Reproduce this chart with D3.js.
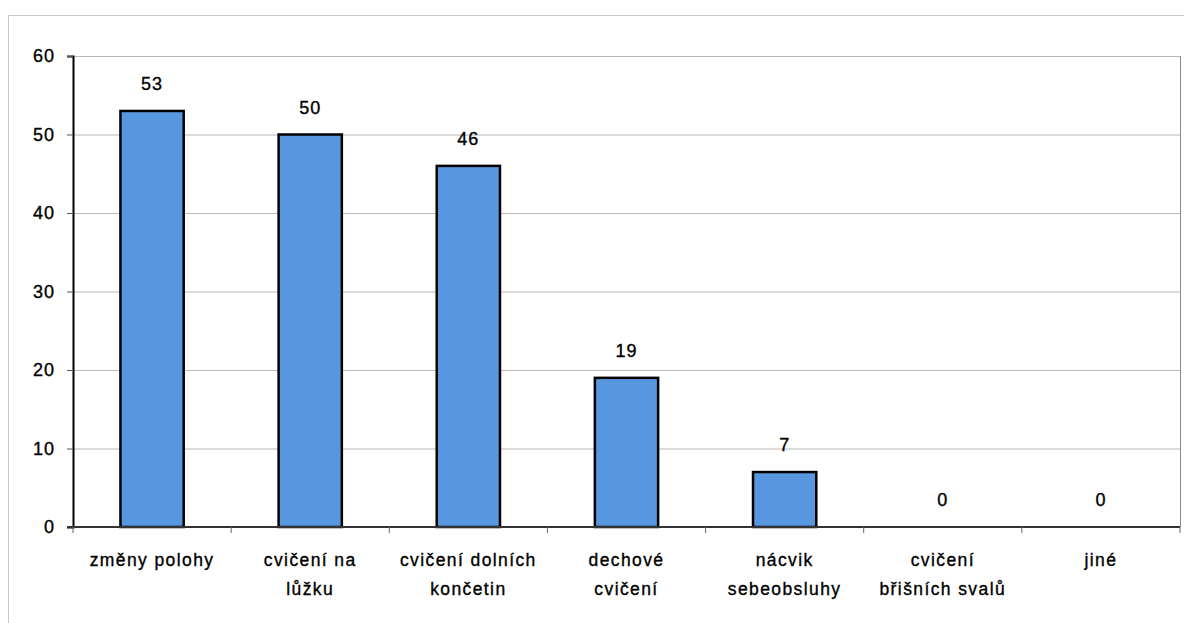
<!DOCTYPE html>
<html>
<head>
<meta charset="utf-8">
<script src="https://cdn.jsdelivr.net/npm/d3@7"></script>
<style>
  html, body { margin: 0; padding: 0; background: #fff; }
  svg { display: block; font-family: "Liberation Sans", Arial, sans-serif; }
  .txt { fill: #000; stroke: #000; stroke-width: 0.35px; }
</style>
</head>
<body>
<svg id="chart" width="1184" height="623"></svg>
<script>
// Activity categories (each label may wrap onto two lines)
const categories = [
  ["změny polohy"],
  ["cvičení na", "lůžku"],
  ["cvičení dolních", "končetin"],
  ["dechové", "cvičení"],
  ["nácvik", "sebeobsluhy"],
  ["cvičení", "břišních svalů"],
  ["jiné"]
];
const values = [53, 50, 46, 19, 7, 0, 0];
const yTicks = [0, 10, 20, 30, 40, 50, 60];

const svg = d3.select("#chart");
const margin = { left: 73, right: 4, top: 56, bottom: 96 };
const W = 1184, H = 623;

// outer chart frame
svg.append("rect")
  .attr("x", 8.5).attr("y", 15.5)
  .attr("width", W + 10).attr("height", H + 10)
  .attr("fill", "none").attr("stroke", "#c8c8c8").attr("stroke-width", 1);

const x = d3.scaleBand()
  .domain(d3.range(categories.length))
  .range([margin.left, W - margin.right])
  .paddingInner(0.6).paddingOuter(0.3);

const y = d3.scaleLinear().domain([0, 60]).range([H - margin.bottom, margin.top]);

// gridlines
svg.append("g")
  .selectAll("line").data(yTicks.filter(d => d > 0)).join("line")
  .attr("x1", margin.left).attr("x2", W - margin.right)
  .attr("y1", d => y(d) + 0.5).attr("y2", d => y(d) + 0.5)
  .attr("stroke", "#b8b8b8").attr("stroke-width", 1);

// right edge of the plot area
svg.append("line")
  .attr("x1", W - margin.right + 0.5).attr("x2", W - margin.right + 0.5)
  .attr("y1", y(60)).attr("y2", y(0))
  .attr("stroke", "#8a8a8a").attr("stroke-width", 1);

// bars
svg.append("g")
  .selectAll("rect").data(values).join("rect")
  .attr("x", (d, i) => x(i))
  .attr("y", d => y(d))
  .attr("width", x.bandwidth())
  .attr("height", d => y(0) - y(d))
  .attr("fill", "#5797e0")
  .attr("stroke", "#000")
  .attr("stroke-width", 2.5)
  .attr("display", d => d > 0 ? null : "none");

// value labels
svg.append("g")
  .selectAll("text").data(values).join("text")
  .attr("class", "txt")
  .attr("x", (d, i) => x(i) + x.bandwidth() / 2)
  .attr("y", d => y(d) - 21)
  .attr("text-anchor", "middle")
  .attr("font-size", 18)
  .attr("letter-spacing", 1)
  .text(d => d);

// y axis
const yAxis = svg.append("g")
  .attr("transform", `translate(${margin.left},0)`)
  .call(d3.axisLeft(y).tickValues(yTicks).tickSize(6).tickPadding(12));
yAxis.select(".domain").attr("stroke", "#000").attr("stroke-width", 2);
yAxis.selectAll(".tick line").attr("stroke", "#555");
yAxis.selectAll(".tick text")
  .attr("class", "txt")
  .attr("font-size", 18).attr("letter-spacing", 1)
  .attr("font-family", "Liberation Sans, Arial, sans-serif");

// x axis with ticks at band boundaries
const step = (W - margin.right - margin.left) / categories.length;
const xAxisG = svg.append("g").attr("transform", `translate(0,${y(0)})`);
xAxisG.append("line")
  .attr("x1", margin.left - 6).attr("x2", W - margin.right)
  .attr("stroke", "#333").attr("stroke-width", 2);
xAxisG.selectAll("line.tk").data(d3.range(categories.length + 1)).join("line")
  .attr("class", "tk")
  .attr("x1", i => margin.left + i * step).attr("x2", i => margin.left + i * step)
  .attr("y1", 0).attr("y2", 6)
  .attr("stroke", "#666").attr("stroke-width", 1);

const labels = xAxisG.selectAll("text.cat").data(categories).join("text")
  .attr("class", "cat txt")
  .attr("text-anchor", "middle")
  .attr("font-size", 17.5)
  .attr("letter-spacing", 1.4);
labels.each(function(lines, i) {
  const t = d3.select(this);
  lines.forEach((ln, j) => {
    t.append("tspan")
      .attr("x", x(i) + x.bandwidth() / 2)
      .attr("y", 39 + j * 29)
      .text(ln);
  });
});
</script>
</body>
</html>
